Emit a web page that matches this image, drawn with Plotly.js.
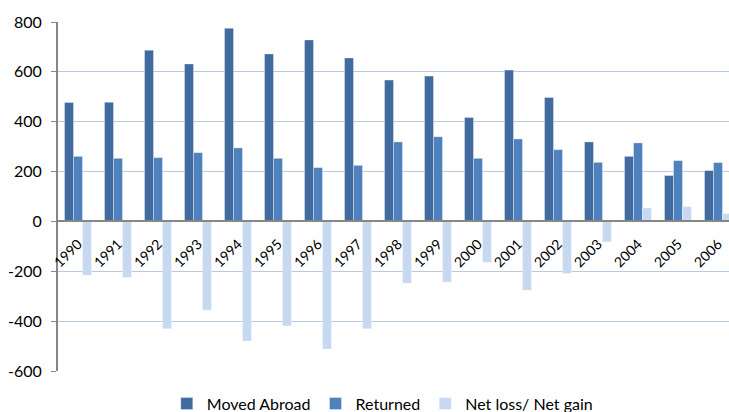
<!DOCTYPE html>
<html>
<head>
<meta charset="utf-8">
<script src="https://cdn.plot.ly/plotly-3.0.1.min.js"></script>
<style>
html,body{margin:0;padding:0;overflow:hidden;background:#fff;}
#chart{width:742px;height:412px;}
</style>
</head>
<body>
<div id="chart"></div>
<script>
const years = ['1990','1991','1992','1993','1994','1995','1996','1997','1998','1999','2000','2001','2002','2003','2004','2005','2006'];
const movedAbroad = [477, 478, 687, 632, 775, 672, 728, 656, 567, 583, 417, 607, 497, 319, 261, 184, 204];
const returned = [261, 253, 256, 276, 295, 253, 216, 225, 319, 340, 253, 331, 288, 237, 315, 244, 236];
const netLossGain = [-216, -225, -431, -356, -480, -419, -512, -431, -248, -243, -164, -276, -209, -82, 54, 60, 32];
const yTicks = [-600, -400, -200, 0, 200, 400, 600, 800];

const font = "Lato, 'Open Sans', sans-serif";
const lineCol = 'rgba(255,255,255,0.35)';
const traces = [
  {type:'bar', name:'Moved Abroad', x:years, y:movedAbroad, marker:{color:'#416a9e', line:{color:lineCol, width:1}}},
  {type:'bar', name:'Returned', x:years, y:returned, marker:{color:'#4f81bd', line:{color:lineCol, width:1}}},
  {type:'bar', name:'Net loss/ Net gain', x:years, y:netLossGain, marker:{color:'#c6d9f0', line:{color:lineCol, width:1}}}
];
const layout = {
  width:742, height:412,
  margin:{l:58, r:4, t:22, b:41, autoexpand:false},
  paper_bgcolor:'#fff', plot_bgcolor:'#fff',
  barmode:'group', bargap:0.325, bargroupgap:0,
  font:{family:font, size:15, color:'#000'},
  showlegend:true,
  legend:{orientation:'h', x:0.16, xanchor:'left', y:-0.045, yanchor:'top', font:{size:16}, traceorder:'normal', itemwidth:30},
  xaxis:{type:'category', anchor:'free', position:600/1400, showline:true, linecolor:'#868686', linewidth:2,
         ticks:'', tickangle:-45, showgrid:false, tickfont:{size:14}, ticklabelstandoff:8, automargin:false, fixedrange:true},
  yaxis:{range:[-600,800], tickvals:yTicks, ticktext:yTicks.map(String), showgrid:true, gridcolor:'#b9c9df', gridwidth:1,
         zeroline:false, showline:true, linecolor:'#868686', linewidth:2, ticks:'outside', ticklen:5, tickcolor:'#868686',
         ticklabelstandoff:6, tickfont:{size:16}, automargin:false}
};
Plotly.newPlot('chart', traces, layout, {displayModeBar:false, staticPlot:true});
</script>
</body>
</html>
